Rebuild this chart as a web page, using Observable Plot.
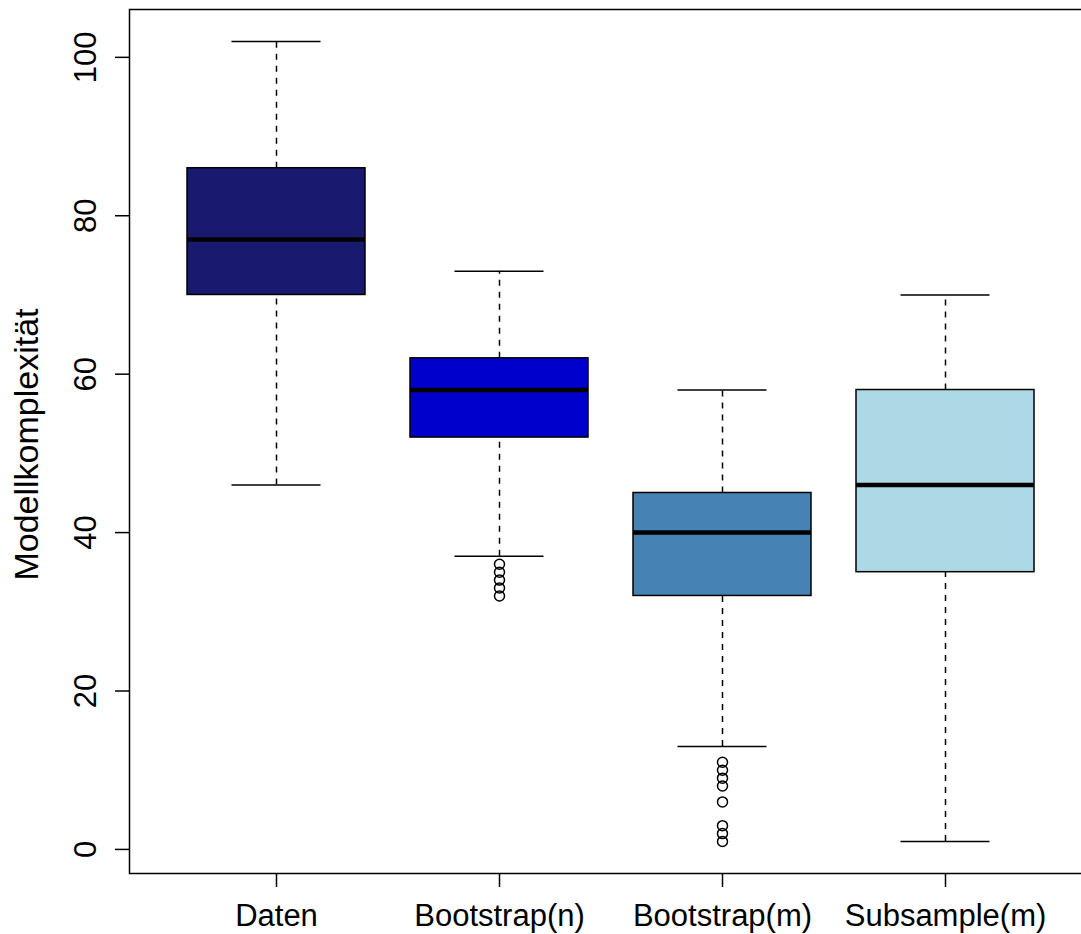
<!DOCTYPE html>
<html>
<head>
<meta charset="utf-8">
<script src="https://cdn.jsdelivr.net/npm/d3@7"></script>
<script src="https://cdn.jsdelivr.net/npm/@observablehq/plot@0.6"></script>
<style>
  html, body { margin: 0; padding: 0; background: #fff; overflow: hidden; }
  #chart svg { overflow: hidden; }
</style>
</head>
<body>
<div id="chart"></div>
<script>
// Boxplot statistics per group
const categories   = ["Daten", "Bootstrap(n)", "Bootstrap(m)", "Subsample(m)"];
const whiskerLow   = [46, 37, 13, 1];
const quartile1    = [70, 52, 32, 35];
const medians      = [77, 58, 40, 46];
const quartile3    = [86, 62, 45, 58];
const whiskerHigh  = [102, 73, 58, 70];
const outliers     = [[], [32, 33, 34, 35, 36], [1, 2, 3, 6, 8, 9, 10, 11], []];
const boxColors    = ["#191970", "#0000CD", "#4682B4", "#ADD8E6"];
const yTicks       = [0, 20, 40, 60, 80, 100];
const yLabel       = "Modellkomplexität";

const stats = categories.map((c, i) => ({
  cat: c, lo: whiskerLow[i], q1: quartile1[i], med: medians[i],
  q3: quartile3[i], hi: whiskerHigh[i], color: boxColors[i]
}));
const outlierRows = categories.flatMap((c, i) => outliers[i].map(v => ({cat: c, v})));

const font = "Liberation Sans, Arial, Helvetica, sans-serif";
const fs = 31;

const chart = Plot.plot({
  width: 1081,
  height: 934,
  marginLeft: 129,
  marginRight: -12,
  marginTop: 9,
  marginBottom: 61,
  style: {fontFamily: font, background: "white", color: "black"},
  x: {type: "band", domain: categories, paddingInner: 0.2, paddingOuter: 0.258, align: 0.5, axis: null},
  y: {domain: [-3.04, 106.04], axis: null},
  marks: [
    // whiskers
    Plot.ruleX(stats, {x: "cat", y1: "lo", y2: "q1", stroke: "black", strokeWidth: 1.5, strokeDasharray: "6,6"}),
    Plot.ruleX(stats, {x: "cat", y1: "q3", y2: "hi", stroke: "black", strokeWidth: 1.5, strokeDasharray: "6,6"}),
    // staples (half box width)
    Plot.tickY(stats, {x: "cat", y: "lo", stroke: "black", strokeWidth: 1.5, insetLeft: 44.5, insetRight: 44.5}),
    Plot.tickY(stats, {x: "cat", y: "hi", stroke: "black", strokeWidth: 1.5, insetLeft: 44.5, insetRight: 44.5}),
    // boxes
    Plot.barY(stats, {x: "cat", y1: "q1", y2: "q3", fill: "color", stroke: "black", strokeWidth: 1.5}),
    // medians
    Plot.tickY(stats, {x: "cat", y: "med", stroke: "black", strokeWidth: 4.5}),
    // outliers
    Plot.dot(outlierRows, {x: "cat", y: "v", r: 5, stroke: "black", strokeWidth: 1.5, fill: "none"}),
    // axes: tick marks only
    Plot.axisY({ticks: yTicks, tickSize: 14, tickFormat: () => "", label: null, stroke: "black", strokeWidth: 1.5}),
    Plot.axisX({tickSize: 14, tickFormat: () => "", label: null, stroke: "black", strokeWidth: 1.5}),
    // y tick labels, rotated
    Plot.text(yTicks, {y: d => d, text: d => String(d), frameAnchor: "left", dx: -34, rotate: -90,
      textAnchor: "middle", lineAnchor: "bottom", fontSize: fs, fill: "black"}),
    // x tick labels
    Plot.text(categories, {x: d => d, text: d => d, frameAnchor: "bottom", dy: 52,
      textAnchor: "middle", lineAnchor: "bottom", fontSize: fs, fill: "black"}),
    // y axis title
    Plot.text([yLabel], {text: d => d, frameAnchor: "left", dx: -92, dy: 3, rotate: -90,
      textAnchor: "middle", lineAnchor: "bottom", fontSize: 34, fill: "black"}),
    // plot box
    Plot.frame({stroke: "black", strokeWidth: 1.5})
  ]
});
document.getElementById("chart").append(chart);
</script>
</body>
</html>
